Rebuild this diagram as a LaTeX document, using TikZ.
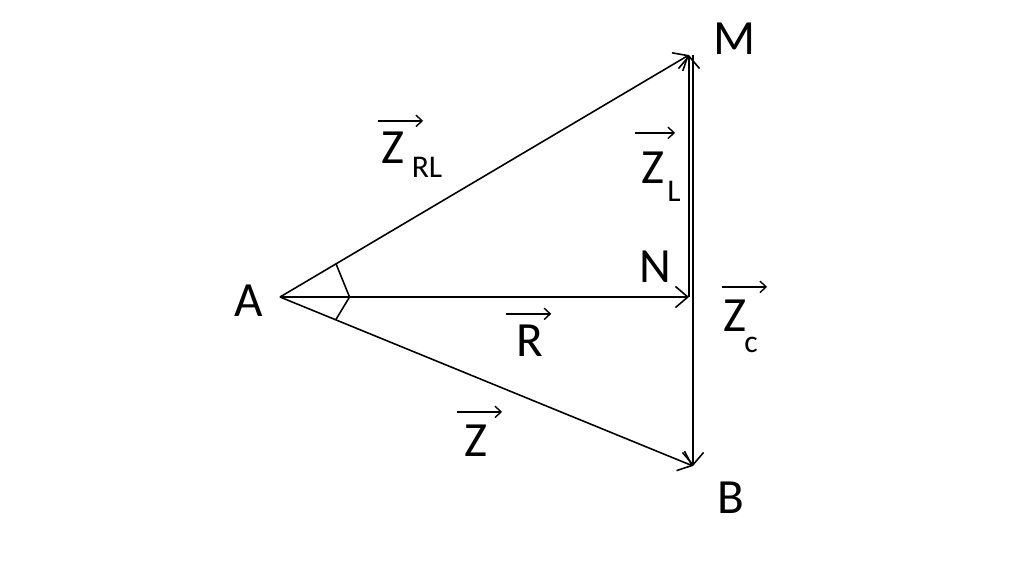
\documentclass[tikz,border=0pt]{standalone}
\usepackage{fontspec}
\setmainfont{Carlito}
\usetikzlibrary{arrows,arrows.meta,calc,positioning}
\begin{document}
\begin{tikzpicture}[x=0.02cm,y=-0.02cm]
\tikzstyle{lbl}=[font=\fontsize{28}{30}\selectfont,inner sep=0pt]
\tikzstyle{sub}=[font=\fontsize{18}{20}\selectfont,inner sep=0pt]
\tikzstyle{vec}=[-{Straight Barb[length=7pt,width=12pt]},line width=0.9pt]
\tikzstyle{over}=[-{Straight Barb[length=3.5pt,width=6.5pt]},line width=0.8pt]
\tikzstyle{anglemark}=[line width=0.9pt]
\useasboundingbox (0,0) rectangle (1024,571);
\coordinate (A) at (280,297);
\coordinate (M) at (689,55);
\coordinate (Mc) at (693,55);
\coordinate (N) at (689,297);
\coordinate (B) at (693,466);
% vectors
\draw[vec] (A) -- (M);
\draw[vec] (A) -- (N);
\draw[vec] (A) -- (B);
\draw[vec] (N) -- (M);
\draw[vec] (Mc) -- (B);
% angle marks
\draw[anglemark] ($(A)!0.137!(M)$) -- ($(A)!0.17!(N)$);
\draw[anglemark] ($(A)!0.17!(N)$) -- ($(A)!0.135!(B)$);
% point names
\node[lbl] (nA) at (249,301) {A};
\node[lbl] (nM) at (735,39) {M};
\node[lbl] (nN) at (655,267) {N};
\node[lbl] (nB) at (731,498) {B};
% vector names
\node[lbl] (zrl) at (393,148) {Z};
\node[sub] (zrls) at (427,167) {RL};
\draw[over] ($(zrl.north west)+(-3,-11)$) -- ++(45,0);
\node[lbl] (zl) at (653,168) {Z};
\node[sub] (zls) at (674,191) {L};
\draw[over] ($(zl.north west)+(-6,-19)$) -- ++(40,0);
\node[lbl] (r) at (530,341) {R};
\draw[over] ($(r.north west)+(-10,-11)$) -- ++(45,0);
\node[lbl] (z) at (476,441) {Z};
\draw[over] ($(z.north west)+(-7,-13)$) -- ++(45,0);
\node[lbl] (zc) at (735,316) {Z};
\node[sub] (zcs) at (751,345) {c};
\draw[over] ($(zc.north west)+(-1,-13)$) -- ++(45,0);
\end{tikzpicture}
\end{document}
